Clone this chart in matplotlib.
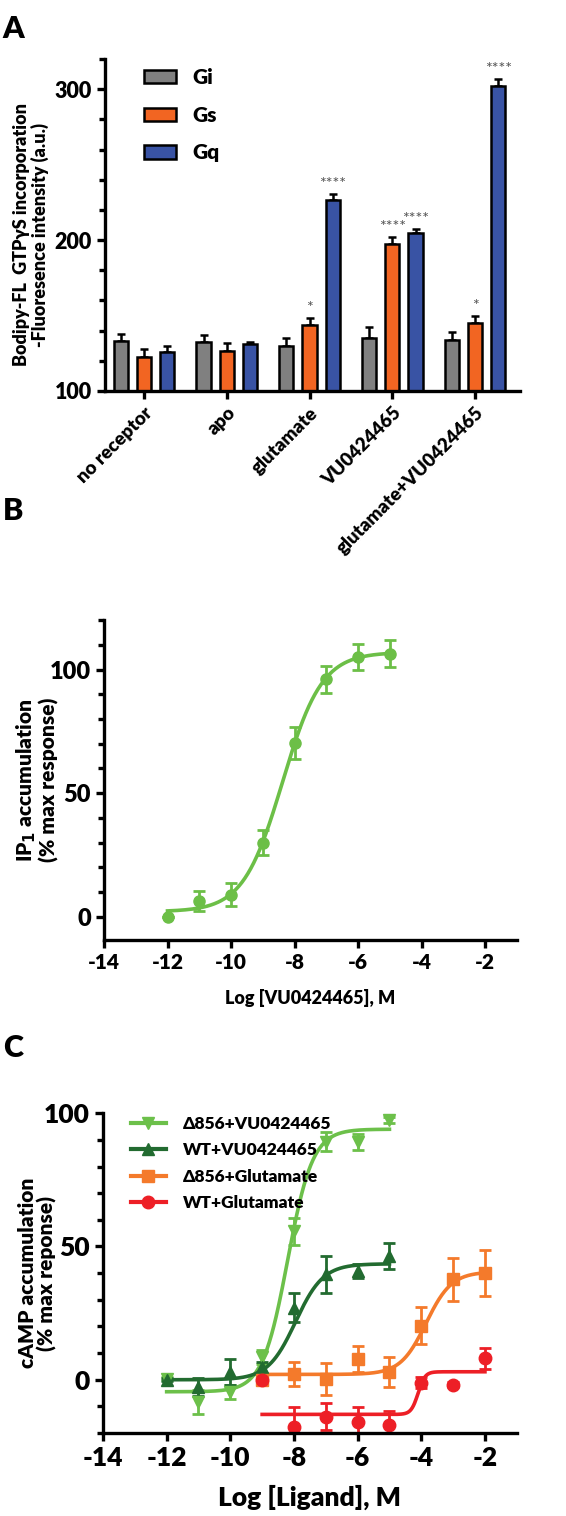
import numpy as np
import matplotlib
matplotlib.use("Agg")
import matplotlib.pyplot as plt
from matplotlib.lines import Line2D

plt.rcParams['font.family'] = ['Lato', 'DejaVu Sans']
plt.rcParams['font.weight'] = 'bold'
plt.rcParams['axes.labelweight'] = 'bold'
plt.rcParams['axes.unicode_minus'] = False

# ---------------- Panel A data ----------------
conditions = ["no receptor", "apo", "glutamate", "VU0424465", "glutamate+VU0424465"]
gi_mean = [133, 132.7, 129.8, 135.1, 133.8]
gi_err = [5, 4.5, 5.5, 7.5, 5]
gs_mean = [122.5, 126.5, 143.8, 197.5, 145.3]
gs_err = [5, 5.5, 4.6, 4.8, 4.4]
gq_mean = [126, 131.4, 226.4, 204.5, 301.8]
gq_err = [4, 1.3, 4, 3.1, 4.8]
gs_sig = ["", "", "*", "****", "*"]
gq_sig = ["", "", "****", "****", "****"]

# ---------------- Panel B data ----------------
b_logx = [-12, -11, -10, -9, -8, -7, -6, -5]
b_ip1 = [0, 6.4, 8.8, 30, 70.3, 96, 105, 106.5]
b_err = [0, 4, 4.7, 5, 6.5, 5.4, 5.2, 5.5]
# fitted 4PL parameters: bottom, top, logEC50, hill
b_fit = [2, 107, -8.38, 0.7]

# ---------------- Panel C data ----------------
c_vu_x = [-12, -11, -10, -9, -8, -7, -6, -5]
c_glu_x = [-9, -8, -7, -6, -5, -4, -3, -2]
d856_vu = [0.4, -8.3, -4.6, 8.5, 55.7, 89.3, 89.3, 97.4]
d856_vu_err = [0.5, 4.5, 2.8, 2.5, 5, 3.5, 3, 1]
wt_vu = [0, -2.7, 2.9, 4.7, 27, 39.5, 40.8, 46.4]
wt_vu_err = [0.5, 3.5, 5, 2, 5.5, 7, 2.5, 5]
d856_glu = [0, 2.2, 0.4, 7.8, 2.9, 20.3, 37.7, 40]
d856_glu_err = [1, 4.5, 6, 5, 5.5, 7, 8, 8.5]
wt_glu = [-0.2, -17.7, -13.9, -15.8, -16.8, -1.1, -1.9, 8.1]
wt_glu_err = [0.5, 7.5, 5, 5.5, 5, 2, 1, 4]
d856_vu_fit = [-4.5, 94, -8.2, 1.1]
wt_vu_fit = [0, 43.5, -7.95, 1.0]
d856_glu_fit = [2, 40.5, -3.85, 1.08]
wt_glu_fit = [-13, 3, -4.1, 4.0]


def four_pl(x, p):
    bottom, top, ec50, hill = p
    return bottom + (top - bottom) / (1 + 10 ** ((ec50 - x) * hill))


def style_axes(ax, size=14):
    for s in ["top", "right"]:
        ax.spines[s].set_visible(False)
    for s in ["left", "bottom"]:
        ax.spines[s].set_linewidth(2.4)
    ax.tick_params(which="major", width=2.4, length=6, labelsize=size)
    ax.tick_params(which="minor", width=2.4, length=4)
    for t in ax.get_xticklabels() + ax.get_yticklabels():
        t.set_fontweight("heavy")


fig = plt.figure(figsize=(5.66, 15.16), dpi=100)

# ================= A =================
axA = fig.add_axes([0.1855, 0.7421, 0.733, 0.219])
x = np.arange(len(conditions))
off, w = 0.28, 0.17
cols = ["#808080", "#f26522", "#3953a4"]
labels = ["Gi", "Gs", "Gq"]
for i, (m, e, c, lab) in enumerate(zip([gi_mean, gs_mean, gq_mean],
                                       [gi_err, gs_err, gq_err], cols, labels)):
    xs = x + (i - 1) * off
    axA.bar(xs, np.array(m) - 100, bottom=100, width=w, color=c, edgecolor="black",
            linewidth=1.8, label=lab, zorder=2)
    axA.errorbar(xs, m, yerr=[np.zeros(len(e)), e], fmt="none", ecolor="black",
                 elinewidth=1.8, capsize=3, capthick=1.8, zorder=1)
for xi, m, e, s in zip(x, gs_mean, gs_err, gs_sig):
    if s:
        axA.text(xi, m + e + 2, s, ha="center", va="bottom", fontsize=11.5,
                 color="#555555", fontweight="normal")
for xi, m, e, s in zip(x + off, gq_mean, gq_err, gq_sig):
    if s:
        axA.text(xi, m + e + 2, s, ha="center", va="bottom", fontsize=11.5,
                 color="#555555", fontweight="normal")
axA.set_xlim(-0.47, 4.54)
axA.set_ylim(100, 320)
axA.set_yticks([100, 200, 300])
axA.set_yticks(np.arange(100, 321, 20), minor=True)
axA.set_xticks(x)
axA.set_xticklabels(conditions, rotation=45, ha="right", rotation_mode="anchor")
style_axes(axA, 15.5)
axA.tick_params(axis="x", labelsize=13.5)
axA.set_ylabel("Bodipy-FL  GTPγS incorporation\n-Fluoresence intensity (a.u.)", fontsize=13,
               fontweight="heavy", linespacing=1.05)
axA.yaxis.set_label_coords(-0.135, 0.47)
axA.legend(loc="upper left", bbox_to_anchor=(0.05, 1.03), frameon=False,
           prop={"size": 15, "weight": "heavy"},
           handlelength=1.5, handleheight=0.6, labelspacing=0.9)
fig.text(0.005, 0.99, "A", fontsize=22, fontweight="heavy", va="top")

# ================= B =================
axB = fig.add_axes([0.1837, 0.3799, 0.7297, 0.211])
green = "#6cbf47"
xx = np.linspace(-12, -5, 300)
axB.plot(xx, four_pl(xx, b_fit), color=green, lw=2.6)
axB.errorbar(b_logx, b_ip1, yerr=b_err, fmt="o", color=green, ms=8, elinewidth=2,
             capsize=4, capthick=2)
axB.set_xlim(-14, -1)
axB.set_ylim(-9.5, 120)
axB.set_xticks(np.arange(-14, -1, 2))
axB.set_yticks([0, 50, 100])
axB.set_yticks(np.arange(0, 121, 10), minor=True)
style_axes(axB, 17)
axB.tick_params(axis="x", labelsize=15)
axB.set_ylabel("IP$_1$ accumulation\n(% max response)", fontsize=15, fontweight="heavy",
               linespacing=1.0)
axB.yaxis.set_label_coords(-0.11, 0.5)
axB.set_xlabel("Log [VU0424465], M", fontsize=13, labelpad=12, fontweight="heavy")
fig.text(0.005, 0.672, "B", fontsize=22, fontweight="heavy", va="top")

# ================= C =================
axC = fig.add_axes([0.182, 0.0547, 0.731, 0.211])
series = [
    ("Δ856+VU0424465", c_vu_x, d856_vu, d856_vu_err, d856_vu_fit, "#6cc04a", "v"),
    ("WT+VU0424465", c_vu_x, wt_vu, wt_vu_err, wt_vu_fit, "#226b30", "^"),
    ("Δ856+Glutamate", c_glu_x, d856_glu, d856_glu_err, d856_glu_fit, "#f47a2b", "s"),
    ("WT+Glutamate", c_glu_x, wt_glu, wt_glu_err, wt_glu_fit, "#ed1f26", "o"),
]
handles = []
for name, xs, ys, es, p, c, mk in series:
    xx = np.linspace(min(xs), max(xs), 400)
    axC.plot(xx, four_pl(xx, p), color=c, lw=2.6)
    axC.errorbar(xs, ys, yerr=es, fmt=mk, color=c, ms=9, elinewidth=2, capsize=4,
                 capthick=2)
    handles.append(Line2D([], [], color=c, lw=3, marker=mk, ms=9, label=name))
axC.set_xlim(-14, -1)
axC.set_ylim(-20, 100)
axC.set_xticks(np.arange(-14, -1, 2))
axC.set_yticks([0, 50, 100])
axC.set_yticks(np.arange(-20, 101, 10), minor=True)
style_axes(axC, 19)
axC.set_ylabel("cAMP accumulation\n(% max reponse)", fontsize=15, fontweight="heavy",
               linespacing=1.0)
axC.yaxis.set_label_coords(-0.11, 0.5)
axC.set_xlabel("Log [Ligand], M", fontsize=19, labelpad=10, fontweight="heavy")
axC.legend(handles=handles, loc="upper left", bbox_to_anchor=(0.03, 1.04), frameon=False,
           prop={"size": 12.5, "weight": "heavy"}, handlelength=2.0, labelspacing=0.6,
           handletextpad=1.0)
fig.text(0.005, 0.318, "C", fontsize=22, fontweight="heavy", va="top")

fig.savefig("out.png", dpi=100)
